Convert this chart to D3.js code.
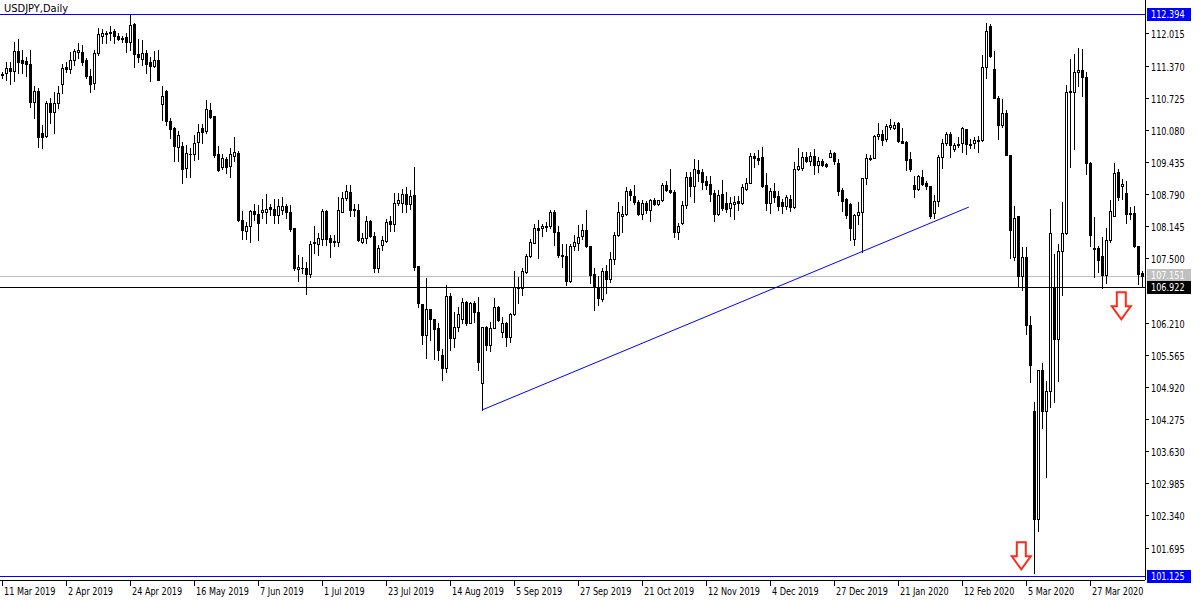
<!DOCTYPE html>
<html><head><meta charset="utf-8">
<script src="https://cdn.jsdelivr.net/npm/d3@7"></script>
<style>
body{margin:0;background:#fff;}
svg{display:block;}
text{font-family:"DejaVu Sans Condensed","DejaVu Sans",sans-serif;font-stretch:condensed;font-size:11px;}
text.axis{font-size:10.5px;}
</style>
</head><body>
<svg id="chart" width="1200" height="600"></svg>
<script>
const symbolTitle = "USDJPY,Daily";
const startDate = "2019-03-11";
const holidays = ["2019-12-25", "2020-01-01"];

const open = [111.20,111.21,111.33,111.27,111.66,111.48,111.46,111.40,110.63,110.86,
110.01,109.96,110.61,110.44,110.62,111.00,111.35,111.31,111.48,111.65,
111.65,111.49,111.15,111.01,111.63,111.96,112.03,112.02,112.06,111.97,
111.92,111.94,111.85,112.20,111.61,111.51,111.63,111.45,111.37,111.49,
110.60,110.86,110.26,110.11,109.74,109.75,109.31,109.60,109.59,109.84,
110.11,110.06,110.48,110.36,109.59,109.33,109.49,109.35,109.55,109.62,
108.27,108.05,108.15,108.45,108.39,108.44,108.44,108.53,108.50,108.37,
108.47,108.55,108.44,108.10,107.28,107.30,107.30,107.18,107.80,107.78,
107.88,108.45,107.90,107.85,107.82,108.44,108.72,108.84,108.50,108.47,
107.83,107.90,108.24,107.94,107.30,107.77,107.85,108.24,108.19,108.62,
108.62,108.79,108.60,108.77,107.35,106.58,105.96,106.48,106.28,106.10,
105.56,105.29,106.74,105.91,106.13,106.28,106.63,106.21,106.61,106.43,
104.99,106.13,105.76,106.11,106.52,106.03,106.21,105.93,106.38,106.93,
106.90,107.23,107.55,107.81,108.10,108.10,108.12,108.14,108.44,108.02,
107.57,107.55,107.05,107.75,107.81,107.95,108.07,107.74,107.19,106.92,
106.68,107.25,107.08,107.48,107.97,108.35,108.40,108.85,108.75,108.64,
108.39,108.62,108.48,108.68,108.60,108.68,108.97,108.88,108.84,108.02,
108.21,108.57,109.13,108.96,109.27,109.24,109.05,108.99,108.82,108.40,
108.79,108.62,108.52,108.59,108.65,108.62,108.90,109.02,109.55,109.51,
109.53,108.97,108.62,108.86,108.75,108.64,108.55,108.70,108.54,109.29,
109.31,109.53,109.46,109.55,109.37,109.45,109.40,109.54,109.62,109.41,
108.87,108.70,108.59,107.88,108.37,108.44,109.11,109.50,109.52,109.96,
110.00,109.89,110.13,110.11,110.22,109.86,109.84,109.49,108.97,108.89,
109.13,109.02,108.95,108.42,108.66,109.53,109.82,110.00,109.70,109.80,
109.82,110.09,109.80,109.82,109.86,109.87,111.34,112.17,111.31,110.72,
110.18,110.42,109.57,107.53,108.34,107.15,107.53,106.17,104.44,102.26,
105.25,104.44,104.83,106.91,105.89,107.65,108.01,110.85,110.83,111.24,
111.29,111.13,109.41,107.71,107.71,107.54,107.17,107.86,108.35,109.23,
108.95,108.81,108.42,108.42,107.75,107.21];

const high = [111.25,111.45,111.45,111.85,111.90,111.69,111.55,111.69,110.96,110.91,
110.18,110.65,110.71,110.83,110.96,111.41,111.45,111.65,111.71,111.83,
111.78,111.53,111.31,111.69,112.12,112.10,112.07,112.16,112.10,112.02,
111.96,112.03,112.39,112.23,111.90,111.88,111.69,111.55,111.66,111.69,
110.96,110.87,110.31,110.14,110.06,109.84,109.77,109.71,109.98,110.20,
110.20,110.68,110.62,110.36,109.76,109.59,109.54,109.71,109.94,109.65,
108.46,108.22,108.48,108.60,108.57,108.70,108.80,108.60,108.70,108.70,
108.74,108.59,108.57,108.10,107.57,107.53,107.42,107.85,108.15,108.00,
108.50,108.48,107.97,107.97,108.74,108.84,108.97,108.97,108.60,108.60,
108.00,108.35,108.27,108.02,107.77,107.94,108.28,108.34,108.82,108.82,
108.90,108.94,108.87,109.34,107.35,106.58,107.10,106.48,106.28,106.20,
105.69,106.96,106.80,106.43,106.53,106.70,106.65,106.63,106.64,106.73,
106.12,106.14,106.23,106.70,106.54,106.32,106.22,106.40,107.25,107.12,
107.30,107.59,107.88,108.19,108.27,108.19,108.22,108.48,108.47,108.14,
107.79,107.79,107.79,107.97,108.17,108.19,108.47,107.74,107.30,107.15,
107.30,107.37,107.63,108.02,108.64,108.55,108.93,108.89,108.97,108.68,
108.67,108.66,108.70,108.72,108.68,109.02,109.06,109.29,108.87,108.20,
108.66,109.24,109.24,109.49,109.47,109.29,109.15,109.15,108.87,108.87,
109.07,108.84,108.74,108.75,108.75,108.99,109.11,109.62,109.61,109.67,
109.73,109.22,108.91,109.02,108.86,108.70,108.77,108.77,109.44,109.71,
109.64,109.64,109.64,109.69,109.54,109.49,109.42,109.67,109.64,109.49,
108.91,108.72,108.62,108.40,108.64,109.11,109.59,109.57,109.98,110.21,
110.08,110.20,110.29,110.24,110.24,110.11,109.86,109.64,109.15,109.17,
109.28,109.05,108.95,108.77,109.57,109.89,110.04,110.04,109.82,109.93,
110.14,110.09,109.89,109.93,109.96,111.59,112.22,112.20,111.66,110.76,
110.69,110.47,109.57,108.55,108.34,107.72,107.72,106.35,104.62,105.25,
105.39,105.04,108.50,107.58,107.79,108.63,110.97,111.50,111.60,111.73,
111.70,111.24,109.44,108.32,107.75,107.93,108.11,108.67,109.41,109.30,
109.09,109.06,108.53,108.56,107.75,107.24];

const low = [111.12,111.08,111.00,111.05,111.21,111.21,111.16,110.53,110.31,109.74,
109.71,109.94,110.22,110.01,110.51,110.81,111.25,111.21,111.38,111.53,
111.38,111.11,110.83,110.89,111.58,111.83,111.83,111.88,111.82,111.88,
111.85,111.65,111.68,111.35,111.45,111.38,111.21,111.05,111.35,111.07,
110.28,110.18,109.91,109.46,109.46,109.02,109.14,109.14,109.47,109.49,
109.81,110.02,110.31,109.54,109.26,109.29,109.21,109.14,109.45,108.25,
107.88,107.88,107.83,108.27,107.87,108.30,108.20,108.37,108.20,108.20,
108.40,108.30,108.04,107.27,107.05,107.21,106.78,107.13,107.60,107.57,
107.77,107.77,107.53,107.74,107.74,108.44,108.67,108.34,108.35,107.85,
107.80,107.80,107.92,107.23,107.23,107.67,107.83,108.04,108.04,108.57,
108.44,108.44,108.50,107.27,106.53,105.79,105.51,105.86,105.49,105.46,
105.06,105.22,105.67,105.73,106.05,106.20,106.16,106.20,106.23,105.25,
104.46,105.66,105.65,106.10,106.25,105.93,105.74,105.83,106.36,106.61,
106.77,107.21,107.52,107.80,107.50,107.94,108.04,108.10,107.77,107.52,
107.33,106.96,107.03,107.67,107.67,107.88,107.72,107.01,106.46,106.56,
106.65,106.80,107.03,107.39,107.94,108.02,108.37,108.68,108.59,108.37,
108.28,108.42,108.24,108.57,108.57,108.66,108.86,108.82,107.92,107.88,
108.19,108.52,108.75,108.64,109.06,108.90,108.90,108.66,108.24,108.37,
108.47,108.44,108.34,108.28,108.48,108.59,108.88,109.01,109.33,109.39,
108.93,108.47,108.42,108.64,108.48,108.42,108.50,108.46,108.52,109.27,
109.27,109.44,109.37,109.19,109.24,109.35,109.33,109.53,109.39,108.77,
108.46,108.30,107.86,107.77,108.19,107.63,108.99,109.47,109.51,109.89,
109.78,109.86,110.09,110.09,109.84,109.81,109.27,109.26,108.73,108.87,
108.97,108.90,108.30,108.30,108.55,109.31,109.78,109.53,109.65,109.73,
109.64,109.60,109.71,109.71,109.64,109.86,111.12,111.55,110.71,109.89,
110.14,109.57,107.51,107.47,106.93,106.86,105.99,105.01,101.18,102.02,
104.09,103.11,104.51,104.62,105.04,106.77,107.98,109.34,109.69,110.96,
110.75,109.20,107.75,107.12,107.23,106.91,107.01,107.82,108.35,108.67,
108.70,108.21,108.28,107.72,106.98,106.94];

const close = [111.17,111.33,111.27,111.66,111.45,111.43,111.40,110.63,110.86,109.93,
109.94,110.61,110.44,110.62,110.81,111.33,111.30,111.48,111.66,111.69,
111.45,111.15,111.00,111.63,112.00,112.03,112.00,112.05,111.97,111.90,
111.90,111.85,112.18,111.61,111.55,111.63,111.41,111.37,111.49,111.08,
110.76,110.26,110.09,109.75,109.98,109.29,109.61,109.59,109.82,110.04,
110.04,110.49,110.33,109.57,109.27,109.51,109.34,109.59,109.63,108.27,
108.06,108.15,108.45,108.40,108.20,108.47,108.50,108.50,108.37,108.55,
108.55,108.44,108.09,107.30,107.33,107.31,107.18,107.78,107.82,107.91,
108.45,107.88,107.82,107.82,108.47,108.72,108.85,108.47,108.47,107.87,
107.90,108.24,107.94,107.30,107.70,107.87,108.22,108.19,108.62,108.67,
108.79,108.60,108.75,107.33,106.60,105.96,106.48,106.28,106.08,105.66,
105.29,106.74,105.91,106.13,106.38,106.63,106.21,106.61,106.43,105.41,
106.12,105.76,106.11,106.52,106.26,106.21,105.93,106.38,106.92,106.90,
107.25,107.55,107.83,108.10,108.07,108.15,108.15,108.44,108.02,107.57,
107.55,107.05,107.75,107.83,107.92,108.07,107.74,107.17,106.92,106.70,
107.25,107.08,107.48,107.97,108.44,108.40,108.85,108.77,108.64,108.39,
108.62,108.48,108.68,108.60,108.67,108.97,108.88,108.84,108.02,108.15,
108.57,109.14,108.96,109.29,109.22,109.04,108.97,108.80,108.40,108.77,
108.52,108.50,108.62,108.64,108.62,108.94,109.02,109.55,109.51,109.47,
108.95,108.62,108.86,108.74,108.55,108.55,108.74,108.54,109.29,109.35,
109.53,109.46,109.55,109.37,109.45,109.37,109.35,109.62,109.46,108.86,
108.66,108.37,108.10,108.37,108.44,109.11,109.51,109.52,109.96,109.99,
109.88,110.16,110.18,110.18,109.86,109.82,109.47,109.29,108.89,109.15,
108.99,108.95,108.34,108.66,109.53,109.82,110.00,109.77,109.77,109.77,
110.11,109.80,109.78,109.87,109.87,111.34,112.06,111.57,110.72,110.18,
110.42,109.57,108.06,108.30,107.15,107.53,106.17,105.36,102.26,105.25,
104.44,104.83,108.00,105.89,107.65,108.01,110.83,110.83,111.24,111.29,
111.13,109.41,107.97,107.68,107.47,107.16,107.86,108.46,109.21,108.74,
109.00,108.39,108.39,107.75,107.19,107.15];

const priceTicks = [112.015, 111.370, 110.725, 110.080, 109.435, 108.790, 108.145, 107.500,
  106.210, 105.565, 104.920, 104.275, 103.630, 102.985, 102.340, 101.695];
const dateTicks = ["11 Mar 2019","2 Apr 2019","24 Apr 2019","16 May 2019","7 Jun 2019","1 Jul 2019",
  "23 Jul 2019","14 Aug 2019","5 Sep 2019","27 Sep 2019","21 Oct 2019","12 Nov 2019","4 Dec 2019",
  "27 Dec 2019","21 Jan 2020","12 Feb 2020","5 Mar 2020","27 Mar 2020"];

const blueLevels = [112.394, 101.125];
const blackLevel = 106.922;
const bidLevel = 107.151;
const trendIndex = [120, 241.6];
const trendPrice = [104.46, 108.53];
const arrowIndex = [254.7, 279.7];
const arrowPrice = [101.80, 106.82];

// ---------- trading calendar ----------
const n = open.length;
const parse = d3.utcParse("%Y-%m-%d");
const fmtKey = d3.utcFormat("%Y-%m-%d");
const fmtLabel = d3.utcFormat("%-d %b %Y");
const dates = [];
let d = parse(startDate);
while (dates.length < n) {
  const wd = d.getUTCDay();
  if (wd !== 0 && wd !== 6 && !holidays.includes(fmtKey(d))) dates.push(d);
  d = d3.utcDay.offset(d, 1);
}
const bars = d3.range(n).map(i => ({i, date: dates[i], o: open[i], h: high[i], l: low[i], c: close[i]}));

// ---------- layout ----------
const plotRight = 1145, plotBottom = 580;
const squeeze = 0.86;
const svg = d3.select("#chart");
const x = d3.scaleLinear().domain([-0.5, n - 0.5]).range([0.5, 0.5 + 4 * n]);
const y = d3.scaleLinear().domain([101.125, 112.394]).range([576, 14.5]);
const col = i => Math.floor(x(i));
const row = v => Math.round(y(v));

const plot = svg.append("g");

// bid line (gray)
plot.append("line").attr("x1", 0).attr("x2", plotRight).attr("y1", row(bidLevel) + 0.5).attr("y2", row(bidLevel) + 0.5)
  .attr("stroke", "#c0c0c0").attr("stroke-width", 1);

// candles
const g = plot.append("g").attr("shape-rendering", "crispEdges");
bars.forEach(b => {
  const cx = col(b.i);
  const top = row(b.h), bot = row(b.l);
  g.append("rect").attr("x", cx).attr("y", top).attr("width", 1).attr("height", Math.max(1, bot - top + 1)).attr("fill", "#000");
  const bt = row(Math.max(b.o, b.c)), bb = row(Math.min(b.o, b.c));
  g.append("rect").attr("x", cx - 1).attr("y", bt).attr("width", 3).attr("height", Math.max(1, bb - bt + 1)).attr("fill", "#000");
  if (b.c > b.o && bb - bt >= 2) {
    g.append("rect").attr("x", cx).attr("y", bt + 1).attr("width", 1).attr("height", bb - bt - 1).attr("fill", "#fff");
  }
});

// horizontal levels
const hline = (v, color) => plot.append("line").attr("x1", 0).attr("x2", plotRight)
  .attr("y1", Math.floor(y(v)) + 0.5).attr("y2", Math.floor(y(v)) + 0.5).attr("stroke", color).attr("stroke-width", 1);
blueLevels.forEach(v => hline(v, "#0000ff"));
hline(blackLevel, "#000");

// trend line
plot.append("line")
  .attr("x1", x(trendIndex[0])).attr("y1", y(trendPrice[0]))
  .attr("x2", x(trendIndex[1])).attr("y2", y(trendPrice[1]))
  .attr("stroke", "#0000ff").attr("stroke-width", 1);

// red down arrows
arrowIndex.forEach((ai, k) => {
  const cx = x(ai), ty = y(arrowPrice[k]);
  const p = d3.path();
  p.moveTo(cx - 4.5, ty); p.lineTo(cx + 4.5, ty); p.lineTo(cx + 4.5, ty + 14);
  p.lineTo(cx + 9.5, ty + 14); p.lineTo(cx, ty + 27); p.lineTo(cx - 9.5, ty + 14);
  p.lineTo(cx - 4.5, ty + 14); p.closePath();
  plot.append("path").attr("d", p.toString()).attr("fill", "#fff").attr("stroke", "#ff2a1a").attr("stroke-width", 2)
    .attr("stroke-linejoin", "miter");
});

// title
svg.append("text").attr("x", 4).attr("y", 12).attr("fill", "#000").text(symbolTitle);

// narrow axis text helper
const axisText = (tx, ty, str, fill) => svg.append("text").attr("class", "axis")
  .attr("transform", `translate(${tx},${ty}) scale(${squeeze},1)`).attr("fill", fill).text(str);

// right axis
const ax = svg.append("g").attr("shape-rendering", "crispEdges");
ax.append("line").attr("x1", plotRight + 0.5).attr("x2", plotRight + 0.5).attr("y1", 0).attr("y2", plotBottom).attr("stroke", "#000");
priceTicks.forEach(v => {
  const ry = row(v) + 0.5;
  ax.append("line").attr("x1", plotRight).attr("x2", plotRight + 4).attr("y1", ry).attr("y2", ry).attr("stroke", "#000");
  axisText(plotRight + 6, ry + 4, v.toFixed(3), "#000");
});
const tag = (v, bg, fg) => {
  const ry = Math.floor(y(v));
  svg.append("rect").attr("x", plotRight + 2).attr("y", ry - 6).attr("width", 44).attr("height", 13).attr("fill", bg);
  axisText(plotRight + 6, ry + 4, v.toFixed(3), fg);
};
tag(bidLevel, "#c0c0c0", "#fff");
tag(blackLevel, "#000", "#fff");
blueLevels.forEach(v => tag(v, "#0000ff", "#fff"));

// bottom axis
ax.append("line").attr("x1", 0).attr("x2", plotRight).attr("y1", plotBottom + 0.5).attr("y2", plotBottom + 0.5).attr("stroke", "#000");
dateTicks.forEach(lbl => {
  const idx = dates.findIndex(dd => fmtLabel(dd) === lbl);
  if (idx < 0) return;
  const tx = col(idx) + 0.5;
  ax.append("line").attr("x1", tx).attr("x2", tx).attr("y1", plotBottom).attr("y2", plotBottom + 6).attr("stroke", "#000");
  axisText(tx + 1.5, 595, lbl, "#000");
});
</script>
</body></html>
